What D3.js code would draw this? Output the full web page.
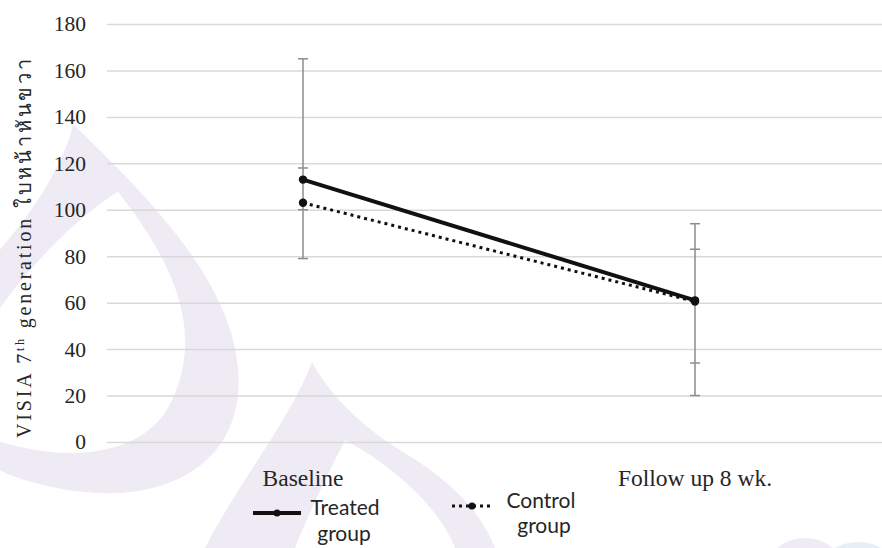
<!DOCTYPE html>
<html>
<head>
<meta charset="utf-8">
<script src="https://cdn.jsdelivr.net/npm/d3@7"></script>
<style>
  html, body { margin: 0; padding: 0; background: #ffffff; }
  svg { display: block; }
</style>
</head>
<body>
<svg id="chart" width="882" height="548"></svg>
<script>
// ---- data ----
const categories = ["Baseline", "Follow up 8 wk."];
const treatedMean = [113, 61];
const controlMean = [103, 60.5];
const treatedUpper = [165, 94];
const treatedLower = [79, 20];
const controlUpper = [118, 83];
const controlLower = [100, 34];
const yTicks = [0, 20, 40, 60, 80, 100, 120, 140, 160, 180];
const seriesNames = ["Treated\ngroup", "Control\ngroup"];

// ---- layout ----
const W = 882, H = 548;
const plot = { left: 107, right: 891, top: 24, bottom: 442 };

const svg = d3.select("#chart");

// faint background emblem
const mark = svg.append("g").attr("fill", "#eeebf4").attr("fill-rule", "evenodd");
mark.append("path").attr("d",
  "M73,124 C68,150 45,200 -5,255 L-5,468 C15,478 45,488 85,492 C160,500 230,470 238,395 C248,290 140,190 73,124 Z" +
  "M118,192 C95,205 40,250 -5,315 L-5,440 C70,465 148,455 172,400 C205,330 172,260 118,192 Z");
mark.append("path").attr("d",
  "M312,362 C290,420 240,480 205,548 L495,548 C480,510 450,480 400,450 C360,425 330,395 312,362 Z" +
  "M345,440 C330,470 310,510 295,548 L455,548 C440,510 400,470 345,440 Z");
svg.append("circle").attr("cx", 805).attr("cy", 582).attr("r", 44).attr("fill", "#eeebf4");
svg.append("circle").attr("cx", 858).attr("cy", 590).attr("r", 48).attr("fill", "#e6eff6");

// ---- scales ----
const x = d3.scaleBand().domain(categories).range([plot.left, plot.right]).padding(0);
const cx = d => x(d) + x.bandwidth() / 2;
const y = d3.scaleLinear().domain([0, 180]).range([plot.bottom, plot.top]);

// gridlines + tick labels
const yAxis = d3.axisLeft(y).tickValues(yTicks).tickSize(-(plot.right - plot.left)).tickPadding(21);
const gy = svg.append("g").attr("transform", `translate(${plot.left},0)`).call(yAxis);
gy.select(".domain").remove();
gy.selectAll(".tick line").attr("stroke", "#d9d9d9").attr("stroke-width", 1.5);
gy.selectAll(".tick text")
  .attr("fill", "#262626")
  .style("font-family", "'Liberation Serif', 'Times New Roman', serif")
  .style("font-size", "21.5px");

// category labels
const xAxis = d3.axisBottom(x).tickSize(0).tickPadding(27);
const gx = svg.append("g").attr("transform", `translate(0,${plot.bottom})`).call(xAxis);
gx.select(".domain").remove();
gx.selectAll(".tick text")
  .attr("fill", "#262626")
  .style("font-family", "'Liberation Serif', 'Times New Roman', serif")
  .style("font-size", "23.5px");

// y title
const title = svg.append("text")
  .attr("transform", `translate(31,247) rotate(-90)`)
  .attr("text-anchor", "middle")
  .attr("fill", "#262626")
  .style("font-family", "'Liberation Serif', 'Times New Roman', serif")
  .style("font-size", "20px")
  .style("letter-spacing", "2.8px");
title.append("tspan").text("VISIA 7");
title.append("tspan").attr("dy", -7).style("font-size", "12px").text("th");
title.append("tspan").attr("dy", 7).text(" generation  ใบหน้าหันขวา");

// error bars
const errColor = "#8c8c8c";
const errors = [
  { up: treatedUpper, lo: treatedLower },
  { up: controlUpper, lo: controlLower }
];
const eg = svg.append("g").attr("stroke", errColor).attr("stroke-width", 1.5);
categories.forEach((c, i) => {
  const vals = [treatedUpper[i], treatedLower[i], controlUpper[i], controlLower[i]];
  eg.append("line").attr("x1", cx(c)).attr("x2", cx(c))
    .attr("y1", y(d3.max(vals))).attr("y2", y(d3.min(vals)));
  errors.forEach(e => {
    [e.up[i], e.lo[i]].forEach(v => {
      eg.append("line").attr("x1", cx(c) - 5).attr("x2", cx(c) + 5)
        .attr("y1", y(v)).attr("y2", y(v));
    });
  });
});

// series lines
const line = d3.line().x((d, i) => cx(categories[i])).y(d => y(d));
svg.append("path").datum(controlMean).attr("d", line)
  .attr("fill", "none").attr("stroke", "#111").attr("stroke-width", 3)
  .attr("stroke-dasharray", "3,4");
svg.append("path").datum(treatedMean).attr("d", line)
  .attr("fill", "none").attr("stroke", "#111").attr("stroke-width", 4);

[treatedMean, controlMean].forEach(s => {
  svg.append("g").selectAll("circle").data(s).join("circle")
    .attr("cx", (d, i) => cx(categories[i])).attr("cy", d => y(d))
    .attr("r", 4.2).attr("fill", "#111");
});

// legend
const legendFont = "Lato, 'Open Sans', sans-serif";
const lg = svg.append("g").style("font-family", legendFont).style("font-size", "21px").attr("fill", "#262626");
// treated
lg.append("line").attr("x1", 253).attr("x2", 301).attr("y1", 513).attr("y2", 513)
  .attr("stroke", "#111").attr("stroke-width", 4);
lg.append("circle").attr("cx", 277).attr("cy", 513).attr("r", 3.5).attr("fill", "#111");
const t1 = seriesNames[0].split("\n");
lg.append("text").attr("x", 345).attr("y", 515).attr("text-anchor", "middle").text(t1[0]);
lg.append("text").attr("x", 344).attr("y", 541).attr("text-anchor", "middle").text(t1[1]);
// control
lg.append("line").attr("x1", 452).attr("x2", 493).attr("y1", 506).attr("y2", 506)
  .attr("stroke", "#111").attr("stroke-width", 3).attr("stroke-dasharray", "3,4");
lg.append("circle").attr("cx", 472).attr("cy", 506).attr("r", 3.5).attr("fill", "#111");
const t2 = seriesNames[1].split("\n");
lg.append("text").attr("x", 541).attr("y", 508).attr("text-anchor", "middle").text(t2[0]);
lg.append("text").attr("x", 544).attr("y", 533).attr("text-anchor", "middle").text(t2[1]);
</script>
</body>
</html>
